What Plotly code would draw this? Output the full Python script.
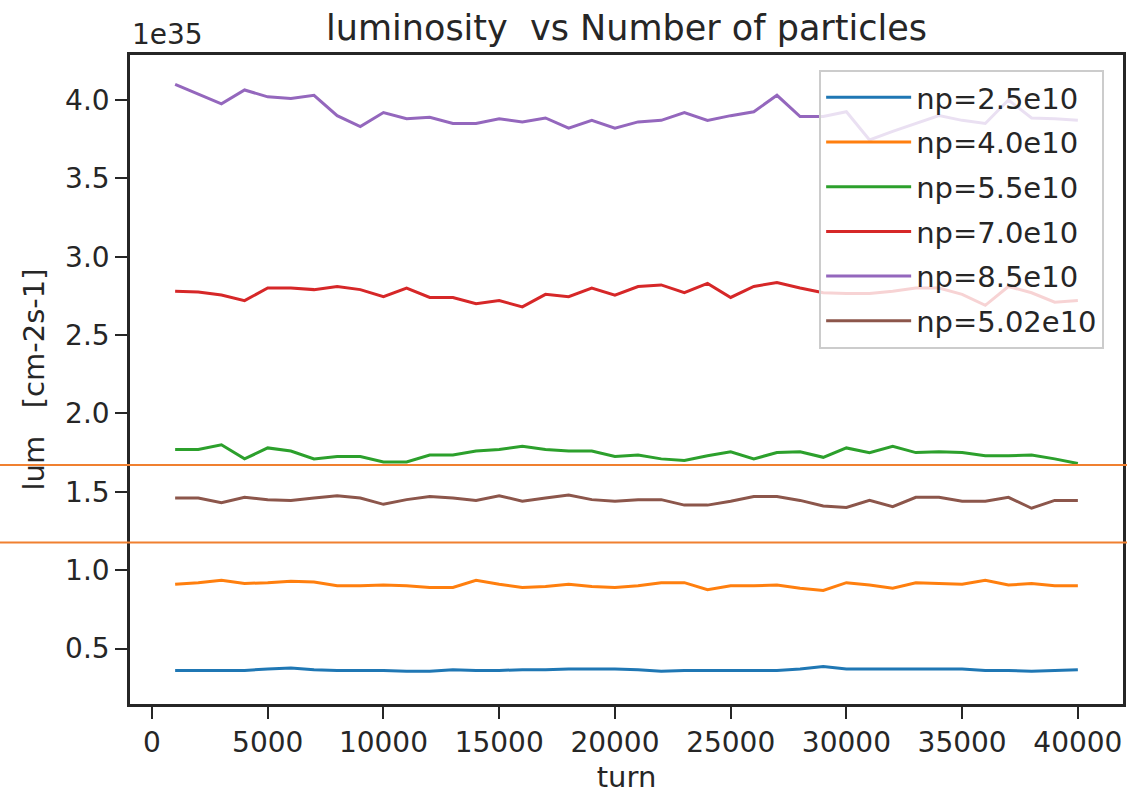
import plotly.graph_objects as go

turns = list(range(1000, 40001, 1000))

lum_2_5 = [0.36, 0.36, 0.36, 0.36, 0.37, 0.375, 0.365, 0.36, 0.36, 0.36,
           0.355, 0.355, 0.365, 0.36, 0.36, 0.365, 0.365, 0.37, 0.37, 0.37,
           0.365, 0.355, 0.36, 0.36, 0.36, 0.36, 0.36, 0.37, 0.385, 0.37,
           0.37, 0.37, 0.37, 0.37, 0.37, 0.36, 0.36, 0.355, 0.36, 0.365]
lum_4_0 = [0.91, 0.92, 0.935, 0.915, 0.92, 0.93, 0.925, 0.90, 0.90, 0.905,
           0.90, 0.89, 0.89, 0.935, 0.91, 0.89, 0.895, 0.91, 0.895, 0.89,
           0.90, 0.92, 0.92, 0.875, 0.90, 0.90, 0.905, 0.885, 0.87, 0.92,
           0.905, 0.885, 0.92, 0.915, 0.91, 0.935, 0.905, 0.915, 0.90, 0.90]
lum_5_5 = [1.77, 1.77, 1.80, 1.71, 1.78, 1.76, 1.71, 1.725, 1.725, 1.69,
           1.69, 1.735, 1.735, 1.76, 1.77, 1.79, 1.77, 1.76, 1.76, 1.725,
           1.735, 1.71, 1.70, 1.73, 1.755, 1.71, 1.75, 1.755, 1.72, 1.78,
           1.75, 1.79, 1.75, 1.755, 1.75, 1.73, 1.73, 1.735, 1.71, 1.68]
lum_7_0 = [2.78, 2.775, 2.755, 2.72, 2.80, 2.80, 2.79, 2.81, 2.79, 2.745,
           2.80, 2.74, 2.74, 2.70, 2.72, 2.68, 2.76, 2.745, 2.80, 2.755,
           2.81, 2.82, 2.77, 2.83, 2.74, 2.81, 2.835, 2.80, 2.77, 2.765,
           2.765, 2.78, 2.80, 2.80, 2.76, 2.69, 2.81, 2.77, 2.71, 2.72]
lum_8_5 = [4.10, 4.04, 3.975, 4.064, 4.02, 4.01, 4.03, 3.90, 3.83, 3.92,
           3.88, 3.89, 3.85, 3.85, 3.88, 3.86, 3.885, 3.82, 3.87, 3.82,
           3.86, 3.87, 3.92, 3.87, 3.90, 3.925, 4.03, 3.894, 3.895, 3.925,
           3.745, 3.80, 3.85, 3.90, 3.87, 3.85, 4.00, 3.885, 3.88, 3.87]
lum_5_02 = [1.46, 1.46, 1.43, 1.465, 1.45, 1.445, 1.46, 1.475, 1.46, 1.42,
            1.45, 1.47, 1.46, 1.445, 1.475, 1.44, 1.46, 1.48, 1.45, 1.44,
            1.45, 1.45, 1.415, 1.415, 1.44, 1.47, 1.47, 1.445, 1.41, 1.40,
            1.445, 1.405, 1.465, 1.465, 1.44, 1.44, 1.465, 1.395, 1.445, 1.445]

series_names = ["np=2.5e10", "np=4.0e10", "np=5.5e10", "np=7.0e10", "np=8.5e10", "np=5.02e10"]
series_values = [lum_2_5, lum_4_0, lum_5_5, lum_7_0, lum_8_5, lum_5_02]
colors = ["#1f77b4", "#ff7f0e", "#2ca02c", "#d62728", "#9467bd", "#8c564b"]

hlines = [1.671, 1.177]

x_ticks = [0, 5000, 10000, 15000, 20000, 25000, 30000, 35000, 40000]
y_ticks = [0.5, 1.0, 1.5, 2.0, 2.5, 3.0, 3.5, 4.0]

FONT = "DejaVu Sans"
INK = "#262626"

fig = go.Figure()
for i, (name, vals, col) in enumerate(zip(series_names, series_values, colors)):
    fig.add_trace(go.Scatter(x=turns, y=vals, mode="lines", name=name,
                             legendgroup=f"g{i}",
                             line=dict(color=col, width=3)))

for h in hlines:
    fig.add_shape(type="line", xref="paper", yref="y", x0=-0.14, x1=1.01,
                  y0=h, y1=h, line=dict(color="rgb(240,128,48)", width=2),
                  layer="above")

fig.update_layout(
    width=1127, height=794,
    margin=dict(l=130, r=4, t=55, b=90),
    paper_bgcolor="white", plot_bgcolor="white",
    font=dict(family=FONT, size=28, color=INK),
    title=dict(text="luminosity\u00a0 vs Number of particles",
               x=0.5, xref="paper", xanchor="center",
               y=1 - 28 / 794, yref="container", yanchor="middle",
               font=dict(size=35, color=INK, family=FONT)),
    legend=dict(x=0.694, y=0.977, xanchor="left", yanchor="top",
                bgcolor="rgba(255,255,255,0.8)", bordercolor="#cccccc",
                borderwidth=2, itemwidth=85, tracegroupgap=4,
                traceorder="grouped",
                font=dict(size=29, color=INK, family=FONT)),
    showlegend=True,
)

fig.update_xaxes(range=[-950, 41950], tickvals=x_ticks,
                 ticktext=[str(v) for v in x_ticks], automargin=False,
                 showgrid=False, zeroline=False, showline=True, mirror=True,
                 linecolor=INK, linewidth=2.5, ticks="outside", ticklen=12,
                 tickwidth=2, tickcolor=INK,
                 title=dict(text="turn", standoff=10, font=dict(size=29)))
fig.update_yaxes(range=[0.146, 4.287], tickvals=y_ticks,
                 ticktext=[f"{v:.1f}" for v in y_ticks], automargin=False,
                 showgrid=False, zeroline=False, showline=True, mirror=True,
                 linecolor=INK, linewidth=2.5, ticks="outside", ticklen=12,
                 tickwidth=2, tickcolor=INK,
                 title=dict(text="lum\u00a0\u00a0\u00a0[cm-2s-1]", standoff=12,
                            font=dict(size=29)))

fig.add_annotation(text="1e35", xref="paper", yref="paper", x=0, y=1,
                   xanchor="left", yanchor="bottom", showarrow=False,
                   font=dict(size=28, color=INK, family=FONT), yshift=2)

fig.write_html("out.html")
